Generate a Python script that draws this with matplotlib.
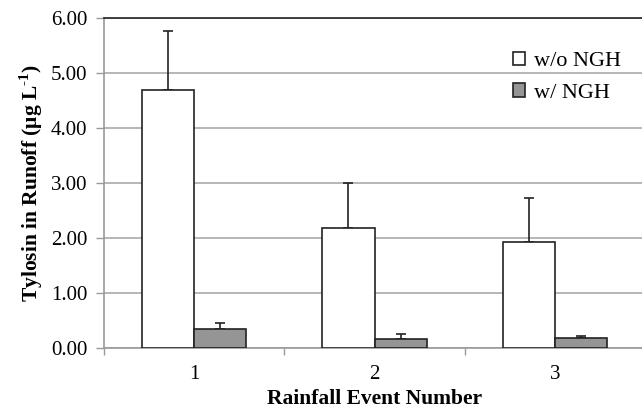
import matplotlib
matplotlib.use("Agg")
import matplotlib.pyplot as plt
import numpy as np

plt.rcParams['font.family'] = ['Liberation Serif', 'DejaVu Serif']
plt.rcParams['mathtext.fontset'] = 'custom'
plt.rcParams['mathtext.rm'] = 'Liberation Serif:bold'
plt.rcParams['mathtext.bf'] = 'Liberation Serif:bold'

categories = ['1', '2', '3']
series_names = ['w/o NGH', 'w/ NGH']
without_ngh = [4.70, 2.19, 1.92]
without_err = [1.06, 0.81, 0.80]
with_ngh = [0.345, 0.17, 0.18]
with_err = [0.11, 0.09, 0.04]
yticks = [0, 1, 2, 3, 4, 5, 6]

fig = plt.figure(figsize=(6.42, 4.12), dpi=100)
ax = fig.add_axes([104/642, 1-348/412, 541/642, 330/412])

x = np.arange(len(categories))
w = 0.289
edge = '#222222'
ax.bar(x - w/2, without_ngh, w, color='white', edgecolor=edge, linewidth=1.2,
       label=series_names[0], zorder=3)
ax.bar(x + w/2, with_ngh, w, color='#959595', edgecolor=edge, linewidth=1.2,
       label=series_names[1], zorder=3)
ax.errorbar(x - w/2, without_ngh, yerr=[np.zeros(3), without_err], fmt='none',
            ecolor=edge, elinewidth=1.2, capsize=3.5, capthick=1.2, zorder=2)
ax.errorbar(x + w/2, with_ngh, yerr=[np.zeros(3), with_err], fmt='none',
            ecolor=edge, elinewidth=1.2, capsize=3.5, capthick=1.2, zorder=2)

ax.set_xlim(-0.5, 2.5)
ax.set_ylim(0, 6)
ax.set_yticks(yticks)
ax.set_yticklabels([f'{v:.2f}' for v in yticks], fontsize=15)
ax.set_xticks(x)
ax.set_xticklabels(categories, fontsize=15)
ax.set_xticks([-0.5, 0.5, 1.5, 2.5], minor=True)
ax.tick_params(axis='x', which='major', length=0, pad=12)
ax.tick_params(axis='x', which='minor', length=5, color='#999999', width=1)
ax.tick_params(axis='y', length=6, color='#999999', width=1, pad=6)

ax.yaxis.grid(True, color='#aaaaaa', linewidth=1.2, zorder=0)
ax.set_axisbelow(True)
for s in ['left', 'bottom']:
    ax.spines[s].set_color('#999999')
    ax.spines[s].set_linewidth(1.2)
ax.spines['top'].set_color('#222222')
ax.spines['top'].set_linewidth(1.2)
ax.spines['right'].set_visible(False)

ax.set_ylabel('Tylosin in Runoff (μg L$^{\\text{-1}}$)', fontsize=15.5,
              fontweight='bold', labelpad=4)
ax.set_xlabel('Rainfall Event Number', fontsize=15.5, fontweight='bold', labelpad=4)

leg = ax.legend(loc='upper left', bbox_to_anchor=(0.740, 0.925), frameon=False,
                fontsize=16, handlelength=0.55, handleheight=0.55, handletextpad=0.4,
                labelspacing=0.55, borderaxespad=0)

fig.savefig('out.png', dpi=100)
